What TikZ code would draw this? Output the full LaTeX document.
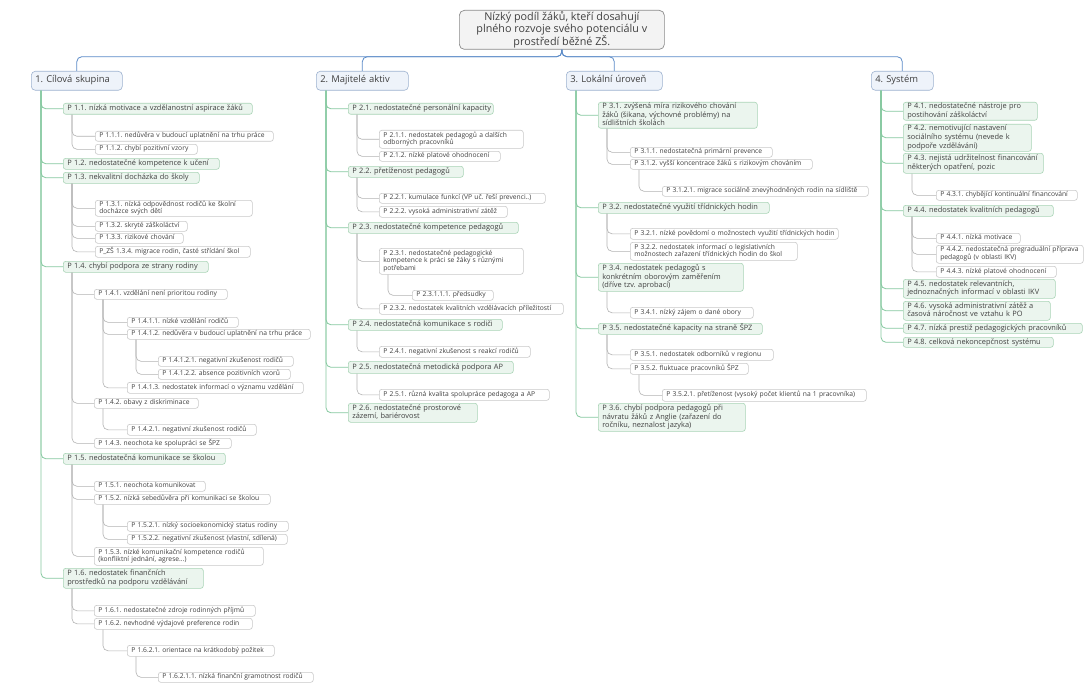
\documentclass[tikz,border=0pt]{standalone}
\usepackage{fontspec}
\setmainfont{Open Sans}
\frenchspacing
\definecolor{txt}{HTML}{404040}
\definecolor{rootfill}{HTML}{F3F3F3}
\definecolor{rootdraw}{HTML}{8A8A8A}
\definecolor{catfill}{HTML}{EEF3FA}
\definecolor{catdraw}{HTML}{9EB3D0}
\definecolor{twofill}{HTML}{EBF5EE}
\definecolor{twodraw}{HTML}{A9D4B6}
\definecolor{threedraw}{HTML}{C9C9C9}
\definecolor{lonec}{HTML}{5B8BC8}
\definecolor{ltwoc}{HTML}{86C9A0}
\definecolor{lthreec}{HTML}{B3B3B3}
\tikzset{
 base/.style={anchor=north west, align=left, inner xsep=4pt, inner ysep=0pt, rounded corners=2.5pt, line width=0.6pt, text=txt},
 rootbox/.style={anchor=north west, align=center, inner sep=0pt, fill=rootfill, draw=rootdraw, line width=0.7pt, rounded corners=5pt, text=txt, font=\fontsize{10.8}{12}\selectfont},
 catbox/.style={base, fill=catfill, draw=catdraw, rounded corners=4pt, font=\fontsize{9.4}{11}\selectfont},
 twobox/.style={base, fill=twofill, draw=twodraw, font=\fontsize{7.4}{8.6}\selectfont},
 threebox/.style={base, fill=white, draw=threedraw, font=\fontsize{6.7}{7.6}\selectfont},
 lone/.style={draw=lonec, line width=0.8pt, rounded corners=5pt},
 ltwo/.style={draw=ltwoc, line width=0.8pt, rounded corners=5pt},
 lthree/.style={draw=lthreec, line width=0.6pt, rounded corners=5pt},
}
\newcommand\mmnode[7]{\pgfmathsetmacro\mmtw{#5-8}\node[#2, text width=\mmtw pt, minimum height=#6pt] (#1) at (#3pt,-#4pt) {\begin{tabular}{@{}l@{}}#7\end{tabular}};}
\begin{document}
\begin{tikzpicture}
\fill[white] (0,0) rectangle (1089pt,-698pt);
\useasboundingbox (0,0) rectangle (1089pt,-698pt);
% root
\node[rootbox, minimum width=205pt, minimum height=39pt] (root) at (459pt,-10pt) {Nízký podíl žáků, kteří dosahují\\ plného rozvoje svého potenciálu v\\ prostředí běžné ZŠ.};
% categories
\mmnode{cat1}{catbox}{31}{71}{91}{19}{1. Cílová skupina}
\mmnode{cat2}{catbox}{316}{71}{92}{19}{2. Majitelé aktiv}
\mmnode{cat3}{catbox}{566}{71}{96}{19}{3. Lokální úroveň}
\mmnode{cat4}{catbox}{871}{71}{62}{19}{4. Systém}
% column 1
\mmnode{p11}{twobox}{63}{103}{189}{11}{P 1.1. nízká motivace a vzdělanostní aspirace žáků}
\mmnode{p111}{threebox}{95}{131}{178}{10}{P 1.1.1. nedůvěra v budoucí uplatnění na trhu práce}
\mmnode{p112}{threebox}{95}{144}{102}{10}{P 1.1.2. chybí pozitivní vzory}
\mmnode{p12}{twobox}{63}{158}{156}{11}{P 1.2. nedostatečné kompetence k učení}
\mmnode{p13}{twobox}{63}{172}{136}{11}{P 1.3. nekvalitní docházka do školy}
\mmnode{p131}{threebox}{95}{200}{157}{16}{P 1.3.1. nízká odpovědnost rodičů ke školní\\ docházce svých dětí}
\mmnode{p132}{threebox}{95}{221}{92}{10}{P 1.3.2. skryté záškoláctví}
\mmnode{p133}{threebox}{95}{233}{88}{10}{P 1.3.3. rizikové chování}
\mmnode{p134}{threebox}{95}{246}{155}{11}{P\_ZŠ 1.3.4. migrace rodin, časté střídání škol}
\mmnode{p14}{twobox}{63}{261}{145}{11}{P 1.4. chybí podpora ze strany rodiny}
\mmnode{p141}{threebox}{94}{289}{133}{10}{P 1.4.1. vzdělání není prioritou rodiny}
\mmnode{p1411}{threebox}{127}{317}{111}{10}{P 1.4.1.1. nízké vzdělání rodičů}
\mmnode{p1412}{threebox}{127}{329}{183}{10}{P 1.4.1.2. nedůvěra v budoucí uplatnění na trhu práce}
\mmnode{p14121}{threebox}{158}{356}{135}{10}{P 1.4.1.2.1. negativní zkušenost rodičů}
\mmnode{p14122}{threebox}{158}{369}{132}{10}{P 1.4.1.2.2. absence pozitivních vzorů}
\mmnode{p1413}{threebox}{127}{382}{176}{11}{P 1.4.1.3. nedostatek informací o významu vzdělání}
\mmnode{p142}{threebox}{94}{398}{104}{10}{P 1.4.2. obavy z diskriminace}
\mmnode{p1421}{threebox}{127}{424}{129}{11}{P 1.4.2.1. negativní zkušenost rodičů}
\mmnode{p143}{threebox}{94}{438}{137}{10}{P 1.4.3. neochota ke spolupráci se ŠPZ}
\mmnode{p15}{twobox}{63}{453}{162}{11}{P 1.5. nedostatečná komunikace se školou}
\mmnode{p151}{threebox}{94}{481}{111}{10}{P 1.5.1. neochota komunikovat}
\mmnode{p152}{threebox}{94}{494}{176}{10}{P 1.5.2. nízká sebedůvěra při komunikaci se školou}
\mmnode{p1521}{threebox}{127}{521}{161}{10}{P 1.5.2.1. nízký socioekonomický status rodiny}
\mmnode{p1522}{threebox}{127}{534}{160}{10}{P 1.5.2.2. negativní zkušenost (vlastní, sdílená)}
\mmnode{p153}{threebox}{94}{547}{169}{18}{P 1.5.3. nízké komunikační kompetence rodičů\\ (konfliktní jednání, agrese...)}
\mmnode{p16}{twobox}{63}{568}{140}{20}{P 1.6. nedostatek finančních\\ prostředků na podporu vzdělávání}
\mmnode{p161}{threebox}{94}{605}{161}{11}{P 1.6.1. nedostatečné zdroje rodinných příjmů}
\mmnode{p162}{threebox}{94}{618}{158}{11}{P 1.6.2. nevhodné výdajové preference rodin}
\mmnode{p1621}{threebox}{127}{645}{147}{11}{P 1.6.2.1. orientace na krátkodobý požitek}
\mmnode{p16211}{threebox}{158}{672}{155}{10}{P 1.6.2.1.1. nízká finanční gramotnost rodičů}
% column 2
\mmnode{p21}{twobox}{348}{103}{145}{11}{P 2.1. nedostatečné personální kapacity}
\mmnode{p211}{threebox}{379}{130}{144}{18}{P 2.1.1. nedostatek pedagogů a dalších\\ odborných pracovníků}
\mmnode{p212}{threebox}{379}{151}{121}{10}{P 2.1.2. nízké platové ohodnocení}
\mmnode{p22}{twobox}{348}{166}{115}{11}{P 2.2. přetíženost pedagogů}
\mmnode{p221}{threebox}{379}{193}{166}{10}{P 2.2.1. kumulace funkcí (VP uč. řeší prevenci..)}
\mmnode{p222}{threebox}{379}{206}{128}{11}{P 2.2.2. vysoká administrativní zátěž}
\mmnode{p23}{twobox}{348}{222}{170}{11}{P 2.3. nedostatečné kompetence pedagogů}
\mmnode{p231}{threebox}{379}{248}{144}{26}{P 2.3.1. nedostatečné pedagogické\\ kompetence k práci se žáky s různými\\ potřebami}
\mmnode{p23111}{threebox}{412}{290}{81}{10}{P 2.3.1.1.1. předsudky}
\mmnode{p232}{threebox}{379}{303}{184}{11}{P 2.3.2. nedostatek kvalitních vzdělávacích příležitostí}
\mmnode{p24}{twobox}{348}{319}{154}{11}{P 2.4. nedostatečná komunikace s rodiči}
\mmnode{p241}{threebox}{379}{346}{151}{11}{P 2.4.1. negativní zkušenost s reakcí rodičů}
\mmnode{p25}{twobox}{348}{361}{165}{12}{P 2.5. nedostatečná metodická podpora AP}
\mmnode{p251}{threebox}{379}{389}{170}{11}{P 2.5.1. různá kvalita spolupráce pedagoga a AP}
\mmnode{p26}{twobox}{348}{403}{129}{19}{P 2.6. nedostatečné prostorové\\ zázemí, bariérovost}
% column 3
\mmnode{p31}{twobox}{598}{102}{159}{26}{P 3.1. zvýšená míra rizikového chování\\ žáků (šikana, výchovné problémy) na\\ sídlištních školách}
\mmnode{p311}{threebox}{630}{147}{142}{10}{P 3.1.1. nedostatečná primární prevence}
\mmnode{p312}{threebox}{630}{159}{182}{10}{P 3.1.2. vyšší koncentrace žáků s rizikovým chováním}
\mmnode{p3121}{threebox}{662}{186}{206}{10}{P 3.1.2.1. migrace sociálně znevýhodněných rodin na sídliště}
\mmnode{p32}{twobox}{598}{202}{171}{11}{P 3.2. nedostatečné využití třídnických hodin}
\mmnode{p321}{threebox}{630}{228}{208}{11}{P 3.2.1. nízké povědomí o možnostech využití třídnických hodin}
\mmnode{p322}{threebox}{630}{242}{167}{18}{P 3.2.2. nedostatek informací o legislativních\\ možnostech zařazení třídnických hodin do škol}
\mmnode{p34}{twobox}{598}{263}{145}{28}{P 3.4. nedostatek pedagogů s\\ konkrétním oborovým zaměřením\\ (dříve tzv. aprobací)}
\mmnode{p341}{threebox}{630}{307}{123}{11}{P 3.4.1. nízký zájem o dané obory}
\mmnode{p35}{twobox}{598}{323}{164}{11}{P 3.5. nedostatečné kapacity na straně ŠPZ}
\mmnode{p351}{threebox}{630}{349}{143}{11}{P 3.5.1. nedostatek odborníků v regionu}
\mmnode{p352}{threebox}{630}{363}{118}{11}{P 3.5.2. fluktuace pracovníků ŠPZ}
\mmnode{p3521}{threebox}{662}{389}{204}{12}{P 3.5.2.1. přetíženost (vysoký počet klientů na 1 pracovníka)}
\mmnode{p36}{twobox}{598}{403}{147}{28}{P 3.6. chybí podpora pedagogů při\\ návratu žáků z Anglie (zařazení do\\ ročníku, neznalost jazyka)}
% column 4
\mmnode{p41}{twobox}{903}{102}{134}{18}{P 4.1. nedostatečné nástroje pro\\ postihování záškoláctví}
\mmnode{p42}{twobox}{903}{124}{128}{27}{P 4.2. nemotivující nastavení\\ sociálního systému (nevede k\\ podpoře vzdělávání)}
\mmnode{p43}{twobox}{903}{153}{140}{20}{P 4.3. nejistá udržitelnost financování\\ některých opatření, pozic}
\mmnode{p431}{threebox}{936}{190}{141}{10}{P 4.3.1. chybějící kontinuální financování}
\mmnode{p44}{twobox}{903}{205}{150}{11}{P 4.4. nedostatek kvalitních pedagogů}
\mmnode{p441}{threebox}{936}{233}{84}{10}{P 4.4.1. nízká motivace}
\mmnode{p442}{threebox}{936}{245}{147}{18}{P 4.4.2. nedostatečná pregraduální příprava\\ pedagogů (v oblasti IKV)}
\mmnode{p443}{threebox}{936}{266}{120}{11}{P 4.4.3. nízké platové ohodnocení}
\mmnode{p45}{twobox}{903}{279}{152}{19}{P 4.5. nedostatek relevantních,\\ jednoznačných informací v oblasti IKV}
\mmnode{p46}{twobox}{903}{301}{147}{19}{P 4.6. vysoká administrativní zátěž a\\ časová náročnost ve vztahu k PO}
\mmnode{p47}{twobox}{903}{323}{179}{10}{P 4.7. nízká prestiž pedagogických pracovníků}
\mmnode{p48}{twobox}{903}{337}{150}{10}{P 4.8. celková nekoncepčnost systému}
% connectors root -> categories
\foreach \c in {cat1,cat2,cat3,cat4}
  \draw[lone] (root.south) -- ++(0,-7pt) -| (\c.north);
% categories -> level 2
\foreach \p/\c in {cat1/p11,cat1/p12,cat1/p13,cat1/p14,cat1/p15,cat1/p16,
  cat2/p21,cat2/p22,cat2/p23,cat2/p24,cat2/p25,cat2/p26,
  cat3/p31,cat3/p32,cat3/p34,cat3/p35,cat3/p36,
  cat4/p41,cat4/p42,cat4/p43,cat4/p44,cat4/p45,cat4/p46,cat4/p47,cat4/p48}
  \draw[ltwo] ([xshift=10pt]\p.south west) |- (\c.west);
% deeper levels
\foreach \p/\c in {p11/p111,p11/p112,p13/p131,p13/p132,p13/p133,p13/p134,
  p14/p141,p14/p142,p14/p143,p141/p1411,p141/p1412,p141/p1413,
  p1412/p14121,p1412/p14122,p142/p1421,p15/p151,p15/p152,p15/p153,
  p152/p1521,p152/p1522,p16/p161,p16/p162,p162/p1621,p1621/p16211,
  p21/p211,p21/p212,p22/p221,p22/p222,p23/p231,p23/p232,p231/p23111,
  p24/p241,p25/p251,
  p31/p311,p31/p312,p312/p3121,p32/p321,p32/p322,p34/p341,p35/p351,p35/p352,p352/p3521,
  p43/p431,p44/p441,p44/p442,p44/p443}
  \draw[lthree] ([xshift=9pt]\p.south west) |- (\c.west);
\end{tikzpicture}
\end{document}
